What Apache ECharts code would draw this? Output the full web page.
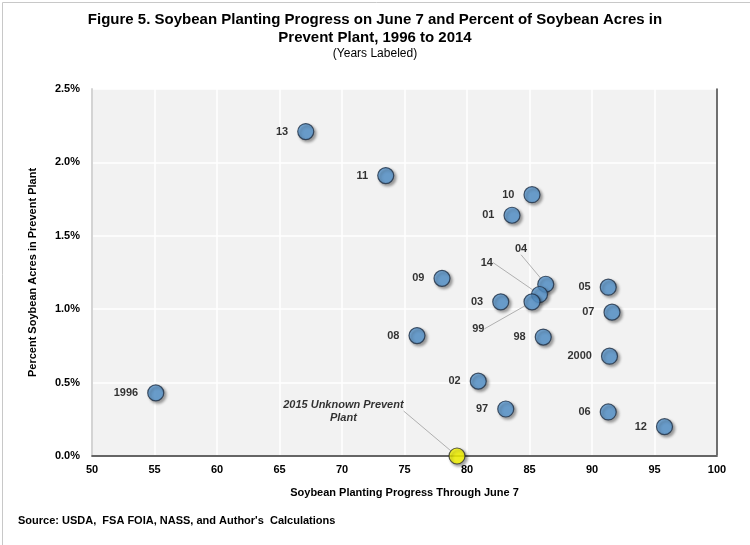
<!DOCTYPE html>
<html>
<head>
<meta charset="utf-8">
<script src="https://cdn.jsdelivr.net/npm/echarts@6/dist/echarts.min.js"></script>
<style>
html,body{margin:0;padding:0;background:#fff;}
#c{width:750px;height:545px;}
</style>
</head>
<body>
<div id="c"></div>
<script>
// Data
const yearLabels = ['13','11','10','01','09','04','14','99','03','05','07','98','08','2000','02','97','1996','06','12'];
const progress   = [67.1, 73.5, 85.2, 83.6, 78.0, 86.3, 85.8, 85.2, 82.7, 91.3, 91.6, 86.1, 76.0, 91.4, 80.9, 83.1, 55.1, 91.3, 95.8];
const preventPct = [2.21, 1.91, 1.78, 1.64, 1.21, 1.17, 1.10, 1.05, 1.05, 1.15, 0.98, 0.81, 0.82, 0.68, 0.51, 0.32, 0.43, 0.30, 0.20];
const year2015Label = '2015 Unknown Prevent\nPlant';
const progress2015 = [79.2];
const prevent2015 = [0];
const xTicks = [50, 55, 60, 65, 70, 75, 80, 85, 90, 95, 100];
const yTicks = [0, 0.5, 1.0, 1.5, 2.0, 2.5];

// label offsets (layout only) for labels with leader lines
const leaderOffsets = { '04': [-1, -35], '14': [-29, -32], '99': [-30, 27] };

const FONT = "'Liberation Sans Narrow', 'Arial Narrow', 'Liberation Sans', Arial, sans-serif";

const mainData = yearLabels.map((n, i) => ({
  name: n,
  value: [progress[i], preventPct[i]],
  labelLine: { show: !!leaderOffsets[n] }
}));

const chart = echarts.init(document.getElementById('c'), null, { renderer: 'canvas' });
chart.setOption({
  backgroundColor: '#ffffff',
  animation: false,
  textStyle: { fontFamily: FONT },
  title: [
    {
      text: 'Figure 5. Soybean Planting Progress on June 7 and Percent of Soybean Acres in\nPrevent Plant, 1996 to 2014',
      left: 'center', top: 6,
      textStyle: { fontSize: 15, fontWeight: 'bold', color: '#000', lineHeight: 18, fontFamily: FONT }
    },
    {
      text: '(Years Labeled)',
      left: 'center', top: 43,
      textStyle: { fontSize: 12, fontWeight: 'normal', color: '#000', fontFamily: FONT }
    }
  ],
  graphic: [
    {
      type: 'rect', left: 0, top: 0, z: -10, silent: true,
      shape: { x: 0.5, y: 0.5, width: 749, height: 544 },
      style: { fill: null, stroke: '#c8c8c8', lineWidth: 1 }
    },
    {
      type: 'text', left: 18, top: 515,
      style: { text: "Source: USDA,  FSA FOIA, NASS, and Author's  Calculations", font: "bold 11px " + FONT, fill: '#000' }
    }
  ],
  grid: {
    left: 92, right: 33, top: 89, bottom: 89,
    show: true, backgroundColor: '#f2f2f2', borderWidth: 0
  },
  xAxis: [
    {
      type: 'value', min: 50, max: 100, interval: 5,
      name: 'Soybean Planting Progress Through June 7',
      nameLocation: 'middle', nameGap: 31,
      nameTextStyle: { fontSize: 11, fontWeight: 'bold', color: '#000', fontFamily: FONT },
      axisLine: { show: true, onZero: false, lineStyle: { color: '#d4d4d4', width: 2 } },
      axisTick: { show: false },
      axisLabel: { fontSize: 11, fontWeight: 'bold', color: '#000', margin: 8, fontFamily: FONT },
      splitLine: { show: true, lineStyle: { color: '#ffffff', width: 1.5 } }
    },
    {
      type: 'value', min: 50, max: 100, position: 'top',
      axisLine: { show: true, lineStyle: { color: '#404040', width: 1.5 } },
      axisTick: { show: false }, axisLabel: { show: false }, splitLine: { show: false }
    }
  ],
  yAxis: [
    {
      type: 'value', min: 0, max: 2.5, interval: 0.5,
      name: 'Percent Soybean Acres in Prevent Plant',
      nameLocation: 'middle', nameGap: 54,
      nameTextStyle: { fontSize: 11, fontWeight: 'bold', color: '#000', fontFamily: FONT },
      axisLine: { show: true, lineStyle: { color: '#d4d4d4', width: 2 } },
      axisTick: { show: false },
      axisLabel: { fontSize: 11, fontWeight: 'bold', color: '#000', margin: 12, fontFamily: FONT,
        formatter: v => v.toFixed(1) + '%' },
      splitLine: { show: true, lineStyle: { color: '#ffffff', width: 1.5 } }
    },
    {
      type: 'value', min: 0, max: 2.5, position: 'right',
      axisLine: { show: true, lineStyle: { color: '#404040', width: 1.5 } },
      axisTick: { show: false }, axisLabel: { show: false }, splitLine: { show: false }
    }
  ],
  series: [
    {
      type: 'scatter',
      data: mainData,
      symbolSize: 16,
      itemStyle: {
        color: '#5b9bd5', borderColor: '#1f2f45', borderWidth: 1.2,
        shadowBlur: 3, shadowOffsetX: 2, shadowOffsetY: 2, shadowColor: 'rgba(0,0,0,0.45)'
      },
      label: {
        show: true, position: 'left', distance: 9,
        formatter: p => p.name,
        fontSize: 11, fontWeight: 'bold', color: '#000', fontFamily: FONT
      },
      labelLine: { show: false, lineStyle: { color: '#b0b0b0', width: 1 } },
      labelLayout: function (params) {
        const n = yearLabels[params.dataIndex];
        const o = leaderOffsets[n];
        if (o) return { dx: o[0], dy: o[1] };
        return {};
      },
      z: 5
    },
    {
      type: 'scatter',
      data: progress2015.map((x, i) => ({ name: year2015Label, value: [x, prevent2015[i]] })),
      symbolSize: 16,
      itemStyle: {
        color: '#ffff00', borderColor: '#2f2f2f', borderWidth: 1.2,
        shadowBlur: 3, shadowOffsetX: 2, shadowOffsetY: 2, shadowColor: 'rgba(0,0,0,0.45)'
      },
      label: {
        show: true, position: 'left', distance: 9, align: 'center',
        formatter: p => p.name,
        fontSize: 11, fontWeight: 'bold', fontStyle: 'italic', color: '#000', lineHeight: 13, fontFamily: FONT
      },
      labelLine: { show: true, lineStyle: { color: '#b0b0b0', width: 1 } },
      labelLayout: { dx: -96, dy: -45 },
      z: 6
    }
  ]
});
</script>
</body>
</html>
